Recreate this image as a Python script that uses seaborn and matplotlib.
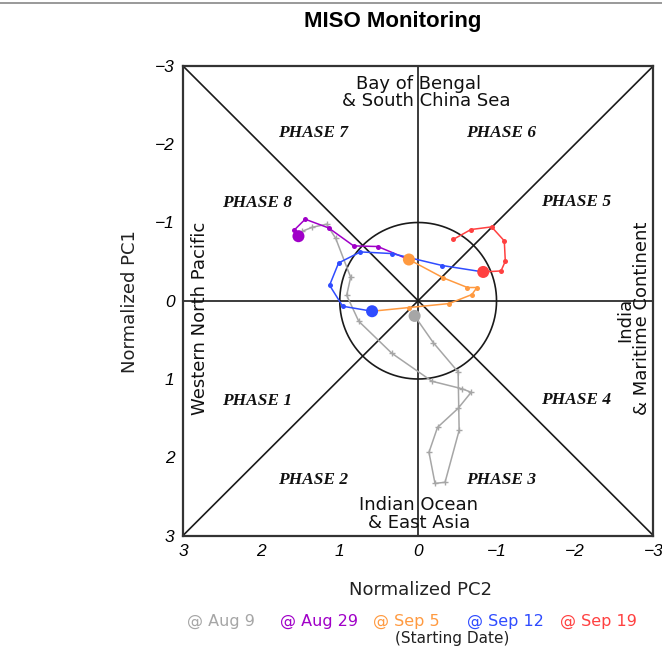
import numpy as np
import pandas as pd
import matplotlib
matplotlib.use("Agg")
import matplotlib.pyplot as plt
from matplotlib.lines import Line2D
import seaborn as sns

# Daily (PC2, PC1) positions for each period, each segment starting at its start date
gray_pc2 = [0.045, -0.193, -0.51, -0.523, -0.343, -0.215, -0.138, -0.247, -0.51, -0.676,
            -0.561, -0.177, 0.336, 0.758, 0.912, 0.861, 1.053, 1.168, 1.348, 1.476, 1.527]
gray_pc1 = [0.194, 0.535, 0.91, 1.656, 2.32, 2.334, 1.937, 1.618, 1.375, 1.17,
            1.125, 1.029, 0.671, 0.262, -0.07, -0.30, -0.80, -0.978, -0.94, -0.889, -0.825]

purple_pc2 = [1.527, 1.582, 1.441, 1.143, 0.823, 0.515, 0.118]
purple_pc1 = [-0.825, -0.902, -1.042, -0.931, -0.701, -0.693, -0.527]

orange_pc2 = [0.118, -0.322, -0.629, -0.75, -0.685, -0.395, 0.118, 0.588]
orange_pc1 = [-0.527, -0.292, -0.169, -0.169, -0.079, 0.036, 0.087, 0.134]

blue_pc2 = [0.588, 0.963, 1.13, 1.015, 0.737, 0.332, -0.309, -0.83]
blue_pc1 = [0.134, 0.07, -0.198, -0.483, -0.624, -0.603, -0.45, -0.368]

red_pc2 = [-0.83, -1.057, -1.112, -1.099, -0.937, -0.673, -0.446]
red_pc1 = [-0.368, -0.381, -0.505, -0.765, -0.944, -0.91, -0.783]

start_dates = ["Aug 9", "Aug 29", "Sep 5", "Sep 12", "Sep 19"]
colors = ["#a6a6a6", "#a000c8", "#ff9a40", "#2f4cff", "#ff4040"]

phase_labels = ["PHASE 1", "PHASE 2", "PHASE 3", "PHASE 4",
                "PHASE 5", "PHASE 6", "PHASE 7", "PHASE 8"]
phase_pc2 = [2.06, 1.335, -1.057, -2.01, -2.01, -1.057, 1.335, 2.06]
phase_pc1 = [1.28, 2.287, 2.287, 1.27, -1.26, -2.146, -2.146, -1.25]

ticks = [3, 2, 1, 0, -1, -2, -3]

segments = [(gray_pc2, gray_pc1), (purple_pc2, purple_pc1), (orange_pc2, orange_pc1),
            (blue_pc2, blue_pc1), (red_pc2, red_pc1)]

frames = []
for name, (xs, ys) in zip(start_dates, segments):
    frames.append(pd.DataFrame({"pc2": xs, "pc1": ys, "start": name,
                                "day": np.arange(len(xs))}))
df = pd.concat(frames, ignore_index=True)

sns.set_style("white")
plt.rcParams["font.family"] = ["DejaVu Sans"]
plt.rcParams["text.color"] = "black"

fig = plt.figure(figsize=(6.62, 6.47), dpi=100)
ax = fig.add_axes([183 / 662, 1 - 535.5 / 647, 470.3 / 662, 469.5 / 647])

line_kw = dict(color="#1a1a1a", lw=1.2, zorder=1)
# Phase-space guide lines and unit circle
ax.plot([3, -3], [0, 0], **line_kw)
ax.plot([0, 0], [3, -3], **line_kw)
ax.plot([3, -3], [-3, 3], **line_kw)
ax.plot([3, -3], [3, -3], **line_kw)
theta = np.linspace(0, 2 * np.pi, 361)
ax.plot(np.cos(theta), np.sin(theta), **line_kw)

# Trajectories
for name, col in zip(start_dates, colors):
    seg = df[df["start"] == name]
    gray = name == start_dates[0]
    sns.lineplot(data=seg, x="pc2", y="pc1", sort=False, estimator=None, ax=ax,
                 color=col, lw=1.1, marker="+" if gray else "o",
                 markersize=4 if gray else 3.6, markeredgewidth=1.0 if gray else 0,
                 markeredgecolor=col, zorder=3, legend=False)

# Starting point of each period
starts = df[df["day"] == 0]
sns.scatterplot(data=starts, x="pc2", y="pc1", hue="start", palette=colors,
                hue_order=start_dates, s=75, edgecolor="none", ax=ax,
                zorder=4, legend=False)

ax.set_xlim(3, -3)
ax.set_ylim(3, -3)
ax.set_xticks(ticks)
ax.set_yticks(ticks)
tick_text = [f"{t:d}".replace("-", "\u2212") for t in ticks]
ax.set_xticklabels(tick_text, fontfamily="Liberation Sans", fontstyle="italic", fontsize=12.5)
ax.set_yticklabels(tick_text, fontfamily="Liberation Sans", fontstyle="italic", fontsize=12.5)
ax.tick_params(axis="both", direction="out", length=4, width=1, color="#333333",
               pad=2, labelcolor="black")
ax.set_xlabel("")
ax.set_ylabel("")
for sp in ax.spines.values():
    sp.set_color("#333333")
    sp.set_linewidth(1.6)

for lab, x, y in zip(phase_labels, phase_pc2, phase_pc1):
    ax.text(x, y, lab, ha="center", va="center", fontfamily="Liberation Serif",
            fontweight="bold", fontstyle="italic", fontsize=12.5, color="#111111")

region_kw = dict(ha="center", va="center", fontsize=13, color="#111111")
ax.text(0.0, -2.768, "Bay of Bengal", **region_kw)
ax.text(-0.1, -2.551, "& South China Sea", **region_kw)
ax.text(-0.01, 2.615, "Indian Ocean", **region_kw)
ax.text(-0.01, 2.845, "& East Asia", **region_kw)
ax.text(2.783, 0.23, "Western North Pacific", rotation=90, **region_kw)
ax.text(-2.637, 0.25, "India", rotation=90, **region_kw)
ax.text(-2.855, 0.224, "& Maritime Continent", rotation=90, **region_kw)

fig.text(393 / 662, 1 - 22 / 647, "MISO Monitoring", ha="center", va="center",
         fontfamily="Liberation Sans", fontweight="bold", fontsize=16, color="black")
fig.text(130 / 662, 1 - 302 / 647, "Normalized PC1", rotation=90, ha="center",
         va="center", fontsize=13, color="#222222")
fig.text(420 / 662, 1 - 590 / 647, "Normalized PC2", ha="center", va="center",
         fontsize=13, color="#222222")

legend_x = [186.7, 280, 373.3, 466.7, 560]
for name, col, x in zip(start_dates, colors, legend_x):
    fig.text(x / 662, 1 - 621 / 647, f"@ {name}", ha="left", va="center",
             fontsize=11.5, color=col)
fig.text(452.5 / 662, 1 - 639 / 647, "(Starting Date)", ha="center", va="center",
         fontsize=11, color="#222222")

fig.add_artist(Line2D([0, 1], [1 - 3 / 647, 1 - 3 / 647], color="#888888", lw=1.2))

fig.savefig("out.png", dpi=100)
